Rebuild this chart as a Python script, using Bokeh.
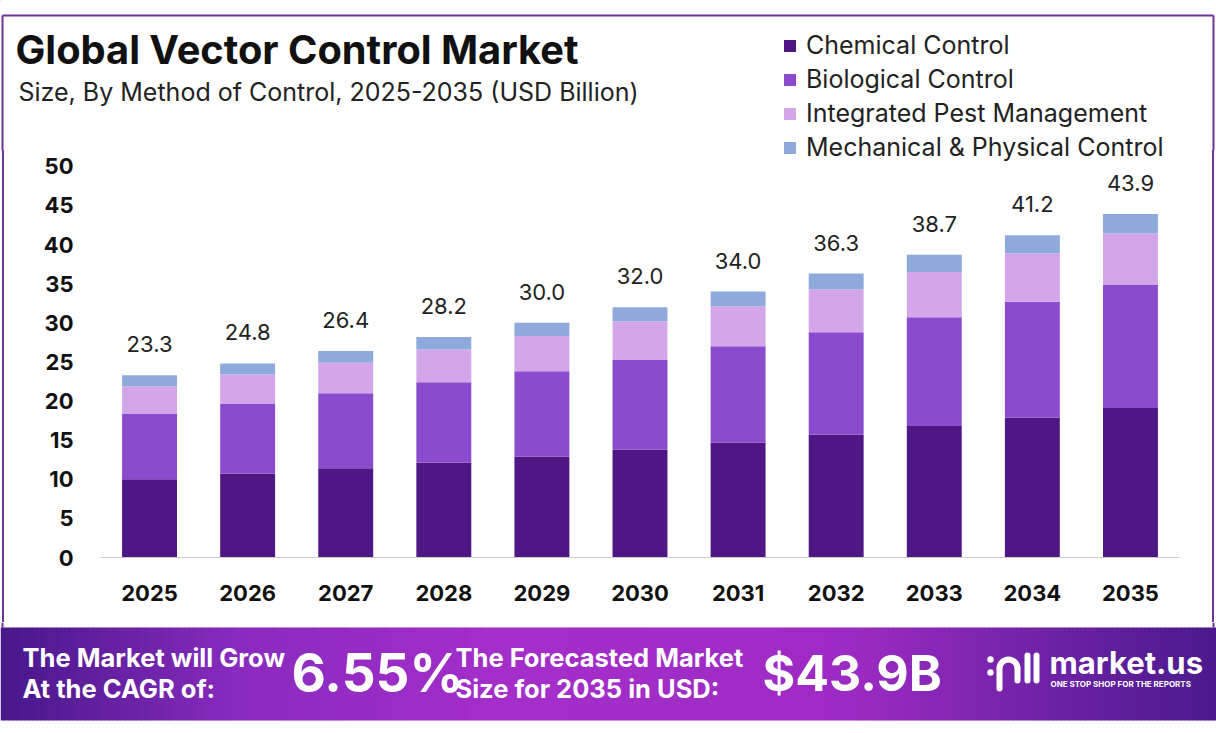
from bokeh.plotting import figure
from bokeh.layouts import column
from bokeh.models import (Legend, LegendItem, FixedTicker, FactorRange, Range1d,
                          ColumnDataSource)
from bokeh.core.properties import value
from bokeh.embed import file_html
from bokeh.resources import INLINE

# ---------------- data ----------------
years = ["2025", "2026", "2027", "2028", "2029", "2030", "2031", "2032", "2033", "2034", "2035"]
chemical = [10.0, 10.7, 11.4, 12.1, 12.9, 13.8, 14.7, 15.7, 16.8, 17.9, 19.1]
biological = [8.4, 9.0, 9.6, 10.3, 10.9, 11.5, 12.3, 13.1, 13.9, 14.8, 15.8]
ipm = [3.5, 3.7, 3.9, 4.2, 4.5, 4.9, 5.1, 5.5, 5.8, 6.2, 6.5]
mechanical = [1.4, 1.4, 1.5, 1.6, 1.7, 1.8, 1.9, 2.0, 2.2, 2.3, 2.5]
totals = [23.3, 24.8, 26.4, 28.2, 30.0, 32.0, 34.0, 36.3, 38.7, 41.2, 43.9]
series_names = ["Chemical Control", "Biological Control",
                "Integrated Pest Management", "Mechanical & Physical Control"]
series_colors = ["#4e1783", "#8a4ccc", "#d3a6ea", "#8eaadb"]
y_ticks = [0, 5, 10, 15, 20, 25, 30, 35, 40, 45, 50]

title_text = "Global Vector Control Market"
subtitle_text = "Size, By Method of Control, 2025-2035 (USD Billion)"
banner_left = ["The Market will Grow", "At the CAGR of:"]
cagr_value = "6.55%"
banner_mid = ["The Forecasted Market", "Size for 2035 in USD:"]
forecast_value = "$43.9B"
logo_text = "market.us"
logo_tagline = "ONE STOP SHOP FOR THE REPORTS"

FONT = "Inter"
BORDER = "#6f3596"
W, H = 1216, 733
HEAD_H = 166
OVERLAP = 16
BAN_H = 111
MAIN_H = H - (HEAD_H - OVERLAP) - BAN_H


def canvas_fig(h):
    f = figure(width=W, height=h, x_range=Range1d(0, W), y_range=Range1d(h, 0),
               x_axis_type=None, y_axis_type=None, min_border=0,
               output_backend="svg", toolbar_location=None)
    f.frame_align = False
    f.outline_line_color = None
    f.background_fill_color = "white"
    f.border_fill_color = "white"
    f.xgrid.visible = False
    f.ygrid.visible = False
    return f


# ---------------- header: title, subtitle, legend ----------------
head = canvas_fig(HEAD_H)
head.margin = (0, 0, -OVERLAP, 0)
head.segment(x0=[2, 2, 1213], y0=[15, 15, 15], x1=[1213, 2, 1213], y1=[15, HEAD_H, HEAD_H],
             line_color=BORDER, line_width=2)
head.text(x=[15], y=[49], text=[title_text], text_font=value(FONT),
          text_font_size="39.8px", text_font_style="bold", text_color="#111111",
          text_baseline="middle", text_align="left")
head.text(x=[18], y=[91], text=[subtitle_text], text_font=value(FONT),
          text_font_size="25px", text_color="#222222",
          text_baseline="middle", text_align="left")

# off-screen stand-ins that carry each series' swatch colour for the legend
dummies = [head.vbar(x=[-50], top=[-60], bottom=[-70], width=1, fill_color=c, line_color=None)
           for c in series_colors]
legend = Legend(items=[LegendItem(label=n, renderers=[r]) for n, r in zip(series_names, dummies)],
                location=(782, 4), orientation="vertical",
                glyph_width=15, glyph_height=15, label_standoff=9,
                label_height=30, spacing=4, padding=0, margin=0,
                label_text_font=FONT, label_text_font_size="25px",
                label_text_color="#222222",
                border_line_color=None, background_fill_alpha=0)
head.add_layout(legend, "center")

# ---------------- main chart ----------------
source = ColumnDataSource(dict(
    year=years, chemical=chemical, biological=biological, ipm=ipm,
    mechanical=mechanical, total=totals,
    label=[f"{t:.1f}" for t in totals],
))

p = figure(x_range=FactorRange(factors=years), y_range=Range1d(0, 51.0),
           width=W, height=MAIN_H, output_backend="svg", toolbar_location=None,
           min_border_left=100, min_border_right=37,
           min_border_top=8, min_border_bottom=65)
p.frame_align = False
p.outline_line_color = None
p.background_fill_alpha = 0
p.border_fill_alpha = 0
p.xgrid.grid_line_color = None
p.ygrid.grid_line_color = None
p.styles = {"box-shadow": "inset 2px 0 0 white, inset 4px 0 0 %s, "
                          "inset -2px 0 0 white, inset -4px 0 0 %s" % (BORDER, BORDER)}

keys = ["chemical", "biological", "ipm", "mechanical"]
p.vbar_stack(keys, x="year", width=0.56, color=series_colors,
             line_color=None, source=source)

p.text(x="year", y="total", text="label", source=source,
       text_align="center", text_baseline="middle", y_offset=-31,
       text_font=value(FONT), text_font_size="22px", text_color="#222222")

p.yaxis.ticker = FixedTicker(ticks=y_ticks)
p.yaxis.axis_line_color = None
p.yaxis.major_tick_line_color = None
p.yaxis.major_tick_out = 0
p.yaxis.major_tick_in = 0
p.yaxis.minor_tick_line_color = None
p.yaxis.major_label_standoff = 27
p.yaxis.major_label_text_font = FONT
p.yaxis.major_label_text_font_style = "bold"
p.yaxis.major_label_text_font_size = "22px"
p.yaxis.major_label_text_color = "#111111"

p.xaxis.axis_line_color = "#cccccc"
p.xaxis.axis_line_width = 1
p.xaxis.major_tick_line_color = None
p.xaxis.major_tick_out = 0
p.xaxis.major_tick_in = 0
p.xaxis.major_label_standoff = 27
p.xaxis.major_label_text_font = FONT
p.xaxis.major_label_text_font_style = "bold"
p.xaxis.major_label_text_font_size = "22px"
p.xaxis.major_label_text_color = "#111111"

# ---------------- banner ----------------
ban = canvas_fig(BAN_H)
ban.segment(x0=[2, 1213], y0=[0, 0], x1=[2, 1213], y1=[5, 5], line_color=BORDER, line_width=2)


def hex2rgb(h):
    h = h.lstrip("#")
    return tuple(int(h[i:i + 2], 16) for i in (0, 2, 4))


stops = [(0.0, "#47188a"), (0.2, "#8a2bbf"), (0.42, "#a52eca"),
         (0.7, "#9c2bc3"), (0.86, "#6e22a6"), (1.0, "#4a1a8c")]


def grad(t):
    for (t0, c0), (t1, c1) in zip(stops[:-1], stops[1:]):
        if t0 <= t <= t1:
            f = (t - t0) / (t1 - t0)
            a, b = hex2rgb(c0), hex2rgb(c1)
            return "#%02x%02x%02x" % tuple(int(round(a[i] + (b[i] - a[i]) * f)) for i in range(3))
    return stops[-1][1]


step = 4
lefts = list(range(0, W, step))
ban.quad(left=lefts, right=[l + step + 0.5 for l in lefts],
         top=[5] * len(lefts), bottom=[98] * len(lefts),
         fill_color=[grad((l + step / 2) / W) for l in lefts], line_color=None)


def btext(x, y, t, size, bold=True):
    ban.text(x=[x], y=[y], text=[t], text_font=value(FONT), text_font_size=size,
             text_font_style="bold" if bold else "normal", text_color="white",
             text_baseline="middle", text_align="left")


btext(22, 35, banner_left[0], "25.5px")
btext(22, 66, banner_left[1], "25.5px")
btext(291, 50, cagr_value, "53px")
btext(455, 35, banner_mid[0], "25.5px")
btext(455, 66, banner_mid[1], "25.5px")
btext(762, 50, forecast_value, "50px")

# logo icon (approximation)
ban.circle(x=[990, 990], y=[37, 50], radius=3.2, fill_color="white", line_color=None)
ban.arc(x=[1008], y=[46], radius=9, start_angle=0, end_angle=3.14159,
        line_color="white", line_width=6)
ban.segment(x0=[999, 1017, 1027, 1036], y0=[46, 46, 33, 33],
            x1=[999, 1017, 1027, 1036], y1=[66, 58, 58, 58],
            line_color="white", line_width=6, line_cap="round")
btext(1049, 40, logo_text, "31px")
btext(1050, 61, logo_tagline, "8px")

layout = column(head, p, ban, spacing=0)
open("out.html", "w").write(file_html(layout, INLINE))
